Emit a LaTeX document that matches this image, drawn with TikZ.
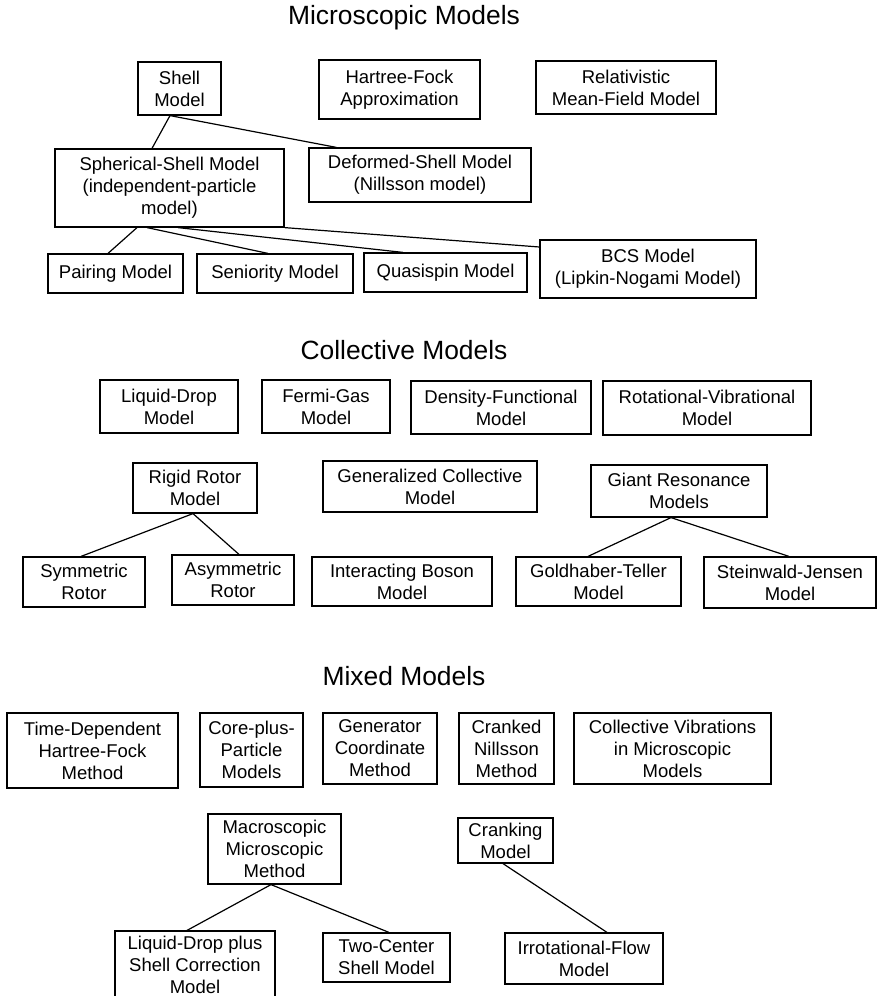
\documentclass[tikz,border=0pt]{standalone}
\usepackage{fontspec}
\setmainfont{Liberation Sans}
\begin{document}
\begin{tikzpicture}[x=1pt,y=-1pt,
  box/.style={draw, line width=1.2pt, align=center, inner sep=0pt,
    font=\fontsize{18.5}{22}\selectfont},
  bx/.style 2 args={box, minimum width=#1pt, minimum height=#2pt},
  conn/.style={line width=1.2pt},
  ttl/.style={font=\fontsize{26.4}{30}\selectfont, inner sep=0pt}]
\useasboundingbox (0,0) rectangle (877,996);
% ---------- Microscopic ----------
\node[ttl] (t1) at (404,18) {Microscopic Models};
\node[bx={83}{53}] (shell) at (179.5,88.5) {Shell\\Model};
\node[bx={161}{59}] (hf) at (399.5,89.5) {Hartree-Fock\\Approximation};
\node[bx={180}{53}] (rmf) at (626,87.5) {Relativistic\\Mean-Field Model};
\node[bx={229}{78}] (sph) at (169.5,188) {Spherical-Shell Model\\(independent-particle\\model)};
\node[bx={222}{54}] (def) at (420,175) {Deformed-Shell Model\\(Nillsson model)};
\node[bx={135}{39}] (pair) at (115.5,273.5) {Pairing Model};
\node[bx={156}{39}] (sen) at (275,273.5) {Seniority Model};
\node[bx={163}{39}] (qsp) at (445.5,272.5) {Quasispin Model};
\node[bx={216}{58}] (bcs) at (648,269) {BCS Model\\(Lipkin-Nogami Model)};
\draw[conn] ([xshift=-9.5pt]shell.south) -- ([xshift=-17.5pt]sph.north);
\draw[conn] ([xshift=-9.5pt]shell.south) -- ([xshift=28pt]def.north west);
\draw[conn] ([xshift=-32.5pt]sph.south) -- ([xshift=-7.5pt]pair.north);
\draw[conn] ([xshift=-22.5pt]sph.south) -- ([xshift=-7pt]sen.north);
\draw[conn] ([xshift=8.5pt]sph.south) -- ([xshift=-42.5pt]qsp.north);
\draw[conn] (sph.south east) -- ([yshift=22pt]bcs.west);
% ---------- Collective ----------
\node[ttl] (t2) at (404,350) {Collective Models};
\node[bx={138}{53}] (ld) at (169,406.5) {Liquid-Drop\\Model};
\node[bx={128}{53}] (fg) at (326,406.5) {Fermi-Gas\\Model};
\node[bx={180}{53}] (dfm) at (501,407.5) {Density-Functional\\Model};
\node[bx={208}{54}] (rv) at (707,408) {Rotational-Vibrational\\Model};
\node[bx={124}{50}] (rr) at (195,488) {Rigid Rotor\\Model};
\node[bx={214}{51}] (gcm) at (430,486.5) {Generalized Collective\\Model};
\node[bx={176}{52}] (grm) at (679,491) {Giant Resonance\\Models};
\node[bx={122}{50}] (sym) at (84,582) {Symmetric\\Rotor};
\node[bx={122}{50}] (asym) at (233,580) {Asymmetric\\Rotor};
\node[bx={180}{49}] (ibm) at (402,581.5) {Interacting Boson\\Model};
\node[bx={165}{49}] (gt) at (598.5,581.5) {Goldhaber-Teller\\Model};
\node[bx={172}{51}] (sj) at (790,582.5) {Steinwald-Jensen\\Model};
\draw[conn] ([xshift=-2pt]rr.south) -- ([xshift=-3pt]sym.north);
\draw[conn] ([xshift=-2pt]rr.south) -- ([xshift=6pt]asym.north);
\draw[conn] ([xshift=-8pt]grm.south) -- ([xshift=-10.5pt]gt.north);
\draw[conn] ([xshift=-8pt]grm.south) -- ([xshift=-1pt]sj.north);
% ---------- Mixed ----------
\node[ttl] (t3) at (404,676) {Mixed Models};
\node[bx={171}{75}] (tdhf) at (92.5,750.5) {Time-Dependent\\Hartree-Fock\\Method};
\node[bx={103}{74}] (cpp) at (251.5,750) {Core-plus-\\Particle\\Models};
\node[bx={114}{71}] (gcmm) at (380,748.5) {Generator\\Coordinate\\Method};
\node[bx={95}{71}] (cnm) at (506.5,748.5) {Cranked\\Nillsson\\Method};
\node[bx={197}{71}] (cvm) at (672.5,748.5) {Collective Vibrations\\in Microscopic\\Models};
\node[bx={133}{70}] (mmm) at (274.5,849) {Macroscopic\\Microscopic\\Method};
\node[bx={95}{45}] (crm) at (505.5,840.5) {Cranking\\Model};
\node[bx={160}{68}] (ldp) at (195,965) {Liquid-Drop plus\\Shell Correction\\Model};
\node[bx={127}{49}] (tcs) at (386.5,957.5) {Two-Center\\Shell Model};
\node[bx={158}{51}] (irf) at (584,958.5) {Irrotational-Flow\\Model};
\draw[conn] ([xshift=-3.5pt]mmm.south) -- ([xshift=-8pt]ldp.north);
\draw[conn] ([xshift=-3.5pt]mmm.south) -- ([xshift=2.5pt]tcs.north);
\draw[conn] ([xshift=-2.5pt]crm.south) -- ([xshift=23pt]irf.north);
\end{tikzpicture}
\end{document}
